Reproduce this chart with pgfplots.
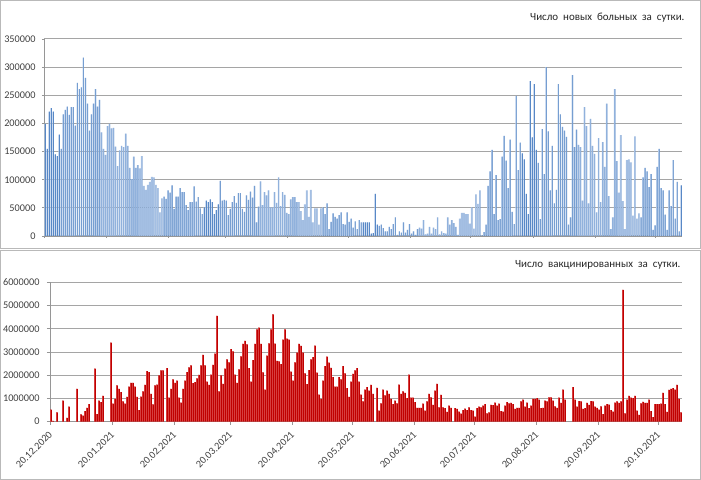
\documentclass[border=0pt]{standalone}
\usepackage{fontspec}
\setmainfont{Carlito}
\newfontfamily\titfont[WordSpace=2]{Carlito}
\usepackage{pgfplots}
\usepackage{pgfplotstable}
\pgfplotsset{compat=1.18}

\definecolor{gridc}{RGB}{165,165,165}
\definecolor{axisc}{RGB}{150,150,150}
\definecolor{labc}{RGB}{64,64,64}
\definecolor{titc}{RGB}{38,38,38}
\definecolor{blueL}{RGB}{176,200,232}
\definecolor{blueD}{RGB}{88,136,198}
\definecolor{redL}{RGB}{226,96,96}
\definecolor{redD}{RGB}{192,0,0}
\definecolor{framec}{RGB}{185,185,185}

% new cases per day, day 0 = 20.12.2020
\pgfplotstableread{
day cases
0 199000
1 155000
2 221000
3 227000
4 221000
5 145000
6 142000
7 180000
8 155000
9 216000
10 224000
11 230000
12 215000
13 229000
14 229000
15 196000
16 272000
17 261000
18 264000
19 317000
20 281000
21 235000
22 187000
23 216000
24 235000
25 261000
26 230000
27 242000
28 184000
29 155000
30 144000
31 195000
32 199000
33 191000
34 192000
35 159000
36 124000
37 152000
38 160000
39 158000
40 182000
41 160000
42 121000
43 101000
44 141000
45 121000
46 126000
47 120000
48 142000
49 89000
50 82000
51 91000
52 96000
53 105000
54 104000
55 91000
56 85000
57 42000
58 67000
59 70000
60 66000
61 81000
62 77000
63 90000
64 48000
65 70000
66 70000
67 85000
68 78000
69 78000
70 55000
71 46000
72 60000
73 60000
74 88000
75 61000
76 69000
77 49000
78 39000
79 51000
80 63000
81 60000
82 65000
83 60000
84 39000
85 46000
86 56000
87 98000
88 63000
89 64000
90 63000
91 37000
92 48000
93 60000
94 71000
95 59000
96 76000
97 76000
98 48000
99 43000
100 72000
101 64000
102 79000
103 68000
104 89000
105 24000
106 52000
107 97000
108 55000
109 78000
110 72000
111 81000
112 51000
113 51000
114 78000
115 59000
116 104000
117 53000
118 78000
119 73000
120 41000
121 39000
122 65000
123 69000
124 69000
125 60000
126 60000
127 44000
128 28000
129 56000
130 81000
131 34000
132 82000
133 24000
134 49000
135 49000
136 20000
137 49000
138 51000
139 39000
140 58000
141 12000
142 25000
143 40000
144 34000
145 31000
146 37000
147 42000
148 21000
149 20000
150 42000
151 25000
152 31000
153 15000
154 26000
155 12000
156 28000
157 24000
158 24000
159 24000
160 24000
161 24000
162 4000
163 5000
164 75000
165 20000
166 18000
167 20000
168 14000
169 8000
170 8000
171 16000
172 12000
173 21000
174 33000
175 2000
176 8000
177 6000
178 24000
179 6000
180 11000
181 21000
182 4000
183 8000
184 2000
185 12000
186 15000
187 13000
188 28000
189 3000
190 4000
191 16000
192 4000
193 15000
194 12000
195 33000
196 3000
197 8000
198 5000
199 4000
200 33000
201 20000
202 28000
203 23000
204 16000
205 2000
206 31000
207 41000
208 41000
209 39000
210 39000
211 22000
212 51000
213 13000
214 74000
215 57000
216 81000
217 1000
218 7000
219 20000
220 89000
221 115000
222 153000
223 39000
224 108000
225 28000
226 30000
227 141000
228 178000
229 134000
230 85000
231 171000
232 43000
233 21000
234 249000
235 117000
236 166000
237 147000
238 136000
239 75000
240 39000
241 275000
242 175000
243 270000
244 153000
245 130000
246 30000
247 190000
248 110000
249 300000
250 186000
251 81000
252 160000
253 58000
254 82000
255 270000
256 216000
257 194000
258 187000
259 176000
260 20000
261 33000
262 286000
263 158000
264 189000
265 162000
266 158000
267 63000
268 229000
269 195000
270 58000
271 208000
272 160000
273 146000
274 42000
275 174000
276 60000
277 167000
278 123000
279 235000
280 71000
281 12000
282 33000
283 261000
284 133000
285 77000
286 179000
287 62000
288 12000
289 135000
290 136000
291 131000
292 36000
293 177000
294 31000
295 40000
296 33000
297 104000
298 121000
299 115000
300 87000
301 110000
302 11000
303 19000
304 123000
305 155000
306 85000
307 81000
308 38000
309 11000
310 81000
311 53000
312 135000
313 31000
314 96000
315 8000
316 90000
}\casestab

% vaccinated per day
\pgfplotstableread{
day vacc
0 520000
1 40000
3 400000
6 910000
8 160000
9 650000
13 1410000
15 320000
16 260000
17 460000
18 600000
19 760000
22 2280000
23 330000
24 910000
25 840000
26 1110000
30 3400000
31 780000
32 980000
33 1560000
34 1410000
35 1270000
36 870000
37 780000
38 1070000
39 1510000
40 1670000
41 1670000
42 1510000
43 1070000
44 500000
45 1080000
46 1310000
47 1590000
48 2180000
49 2130000
50 1200000
51 750000
52 1560000
53 1600000
54 1990000
55 2210000
56 2210000
58 2310000
59 1040000
60 1410000
61 1820000
62 1670000
63 1770000
64 1040000
65 820000
66 1410000
67 1770000
68 2130000
69 2340000
70 2420000
71 1660000
72 1700000
73 1870000
74 2020000
75 2420000
76 2880000
77 2420000
78 1730000
79 1590000
80 2030000
81 2450000
82 2930000
83 4560000
84 1310000
85 1990000
86 1630000
87 2280000
88 2680000
89 2550000
90 3120000
91 3030000
92 2030000
93 1670000
94 2250000
95 2810000
96 3350000
97 3480000
98 3330000
99 2310000
100 1730000
101 2650000
102 3350000
103 3970000
104 4050000
105 3350000
106 2120000
107 1380000
108 2840000
109 3370000
110 3970000
111 4620000
112 3360000
113 2620000
114 2600000
115 2480000
116 3530000
117 3970000
118 3580000
119 3530000
120 2150000
121 1770000
122 2550000
123 2970000
124 3350000
125 3260000
126 2970000
127 2080000
128 1620000
129 2220000
130 2680000
131 2780000
132 3270000
133 2110000
134 1170000
135 980000
136 1770000
137 2390000
138 2800000
139 2540000
140 2320000
141 1920000
142 1510000
143 1510000
144 1920000
145 1820000
146 2390000
147 2080000
148 1440000
149 1070000
150 1730000
151 2060000
152 2210000
153 2310000
154 1730000
155 1170000
156 880000
157 1380000
158 1490000
159 1340000
160 1590000
161 1200000
163 1460000
164 480000
165 790000
166 1380000
167 1130000
168 1340000
169 1200000
170 980000
171 760000
172 910000
173 790000
174 1600000
175 1200000
176 1300000
177 1240000
178 1020000
179 2030000
180 1040000
181 1040000
182 840000
183 590000
184 600000
185 600000
186 780000
187 480000
188 880000
189 1200000
190 1050000
191 720000
192 1340000
193 1630000
194 620000
195 1150000
196 620000
197 580000
198 420000
199 690000
200 590000
202 580000
203 550000
204 430000
205 350000
206 500000
207 560000
208 500000
209 620000
210 500000
211 480000
212 220000
213 580000
214 650000
215 620000
216 690000
217 760000
218 360000
219 400000
220 720000
221 710000
222 820000
223 690000
224 780000
225 460000
226 430000
227 690000
228 840000
229 790000
230 810000
231 760000
232 550000
233 600000
234 600000
235 880000
236 950000
237 650000
238 820000
239 580000
240 690000
241 980000
242 980000
243 1020000
244 950000
245 580000
246 600000
247 910000
248 880000
249 1050000
250 1050000
251 910000
252 660000
253 600000
254 1040000
255 810000
256 1380000
257 950000
261 1490000
262 950000
263 650000
264 890000
265 870000
266 550000
267 580000
268 810000
269 720000
270 890000
271 870000
272 650000
273 600000
274 520000
275 660000
276 330000
277 690000
278 760000
279 740000
280 500000
281 430000
282 820000
283 880000
284 810000
285 870000
286 5670000
287 360000
288 950000
289 1110000
290 1040000
291 1010000
292 1110000
293 480000
294 290000
295 790000
296 850000
297 810000
298 810000
299 950000
300 450000
301 200000
302 760000
303 760000
304 760000
305 780000
306 1240000
307 760000
308 420000
309 1370000
310 1410000
311 1440000
312 1380000
313 1590000
314 980000
315 400000
}\vacctab

\pgfplotsset{
  panel/.style={
    scale only axis, anchor=south west,
    axis x line*=bottom, axis y line*=left,
    axis line style={axisc, line width=0.8bp},
    ymajorgrids, grid style={gridc, line width=1bp},
    tick style={axisc, line width=0.8bp},
    tick align=outside, major tick length=3bp,
    xmin=-0.5,
    xtick={-0.5,30.5,61.5,89.5,120.5,150.5,181.5,211.5,242.5,273.5,303.5},
    scaled y ticks=false,
    ticklabel style={font=\fontsize{10.3}{12}\selectfont, text=labc},
    yticklabel style={/pgf/number format/fixed,
      /pgf/number format/1000 sep={},
      /pgf/number format/assume math mode=true},
    ymin=0,
  }
}

\begin{document}
\begin{tikzpicture}
\useasboundingbox (0,0) rectangle (701bp,480bp);
\draw[framec, line width=0.8bp] (0.5bp,231.5bp) rectangle (700.5bp,479.5bp);
\draw[framec, line width=0.8bp] (0.5bp,0.5bp) rectangle (700.5bp,229.5bp);

\begin{axis}[panel,
  at={(44bp,244bp)}, width=638bp, height=197bp,
  xmax=316.5, ymax=350000,
  ytick={0,50000,100000,150000,200000,250000,300000,350000},
  xticklabels={},
  yticklabel style={xshift=-3bp},
  major tick length=2bp,
]
% light body and darker right edge of each bar
\addplot[ybar, bar width=1.4bp, bar shift=0pt, draw=none, fill=blueL]
  table[x=day, y=cases] {\casestab};
\addplot[ybar, bar width=0.6bp, bar shift=0.45bp, draw=none, fill=blueD]
  table[x=day, y=cases] {\casestab};
\end{axis}

\begin{axis}[panel,
  at={(50bp,58.3bp)}, width=632bp, height=139.4bp,
  xmax=315.5, ymax=6000000,
  ytick={0,1000000,2000000,3000000,4000000,5000000,6000000},
  xticklabels={20.12.2020,20.01.2021,20.02.2021,20.03.2021,20.04.2021,20.05.2021,20.06.2021,20.07.2021,20.08.2021,20.09.2021,20.10.2021},
  xticklabel style={xshift=3bp, yshift=-6bp, rotate=45, anchor=east},
  yticklabel style={xshift=-4bp},
]
\addplot[ybar, bar width=1.8bp, bar shift=0pt, draw=none, fill=redD]
  table[x=day, y=vacc] {\vacctab};
\addplot[ybar, bar width=0.6bp, bar shift=-0.6bp, draw=none, fill=redL]
  table[x=day, y=vacc] {\vacctab};
\end{axis}

\node[anchor=base east, font=\titfont\fontsize{11}{13}\selectfont, text=titc]
  at (688bp,459bp) {Число новых больных за сутки.};
\node[anchor=base east, font=\titfont\fontsize{11}{13}\selectfont, text=titc]
  at (684bp,212bp) {Число вакцинированных за сутки.};
\end{tikzpicture}
\end{document}
